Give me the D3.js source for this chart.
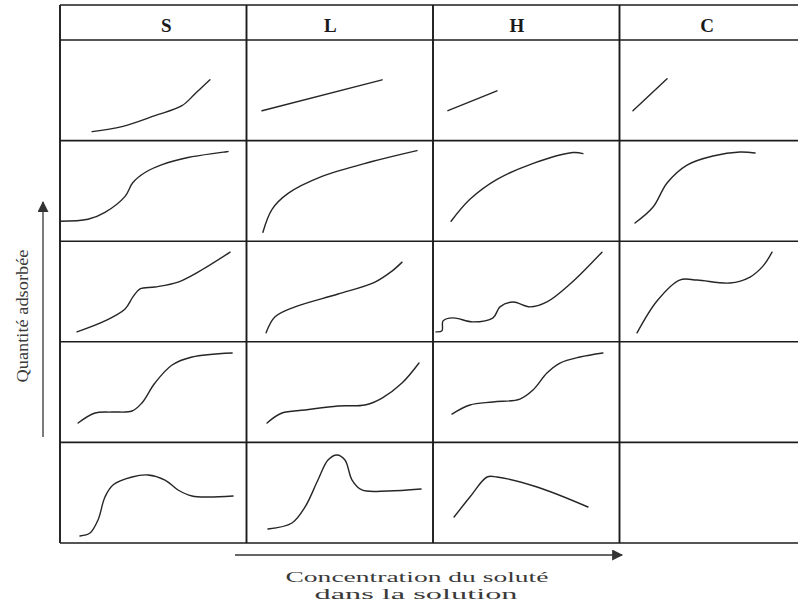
<!DOCTYPE html>
<html>
<head>
<meta charset="utf-8">
<script src="https://cdn.jsdelivr.net/npm/d3@7"></script>
<style>
  body { margin: 0; background: #fff; }
  svg { display: block; }
</style>
</head>
<body>
<div id="graf"></div>
<script>
// 1. Données (courbes en % de la case : [concentration, quantité adsorbée])
CLASSES      = ['S', 'L', 'H', 'C']
SOUS_GROUPES = [1, 2, 3, 4, 5]

S1 = [[17.2,8.9],[33.2,13.9],[50.9,24.8],[65.4,34.7],[72.4,46.5],[80.4,60.4]]
L1 = [[8.3,29.7],[72.7,60.4]]
H1 = [[8.0,29.7],[34.3,49.5]]
C1 = [[7.2,29.7],[25.5,61.4]]

S2 = [[0,19.8],[15.0,21.8],[24.1,28.7],[34.9,44.6],[39.1,58.4],[45.6,68.3],[54.7,76.2],[68.6,83.2],[90.1,89.1]]
L2 = [[8.8,8.9],[13.7,31.7],[22.3,47.5],[40.5,64.4],[67.3,79.2],[91.4,90.1]]
H2 = [[9.7,19.8],[19.8,41.6],[34.3,61.4],[52.0,76.2],[75.1,88.1],[80.4,87.1]]
C2 = [[8.3,18.1],[18.0,34.0],[25.5,57.9],[36.2,75.7],[50.1,84.7],[64.6,88.7],[72.7,87.7]]

S3 = [[9.1,9.9],[24.1,20.8],[34.9,32.7],[39.1,44.6],[42.9,52.5],[50.9,54.5],[63.3,59.4],[74.0,69.3],[91.2,89.1]]
L3 = [[10.5,8.9],[15.3,24.8],[26.0,34.7],[49.1,47.5],[68.9,59.4],[78.0,70.3],[83.4,79.2]]
H3 = [[1.6,9.9],[4.8,10.9],[5.4,20.8],[10.7,23.8],[21.4,19.8],[32.2,23.8],[35.9,34.7],[42.9,39.6],[52.0,34.7],[61.1,39.6],[73.5,57.4],[90.6,89.1]]
C3 = [[9.4,8.9],[20.1,40.6],[32.2,61.4],[41.6,61.4],[59.2,58.4],[70.0,64.4],[76.9,75.2],[81.8,89.1]]

S4 = [[9.7,19.3],[18.8,29.2],[27.9,30.2],[38.6,31.2],[43.9,39.2],[50.9,59.0],[60.1,76.9],[70.8,84.9],[92.3,88.9]]
L4 = [[11.0,19.3],[19.0,29.2],[31.4,32.2],[49.1,36.2],[63.5,37.2],[72.7,44.1],[83.4,59.0],[92.5,78.9]]
H4 = [[10.2,28.2],[19.8,37.2],[32.2,40.2],[46.6,43.1],[53.6,52.1],[61.1,69.0],[68.1,78.9],[78.8,84.9],[91.1,88.9]]

S5 = [[10.7,7.0],[16.1,9.9],[20.4,22.9],[24.1,45.7],[28.4,57.7],[38.6,65.6],[47.2,67.6],[56.3,62.6],[63.3,52.7],[70.8,46.7],[79.4,45.7],[92.8,46.7]]
L5 = [[11.5,13.9],[24.4,19.9],[31.4,35.8],[38.3,62.6],[43.7,82.5],[48.5,87.5],[52.8,82.5],[56.6,62.6],[61.9,52.7],[75.9,51.7],[93.6,53.7]]
H5 = [[11.3,25.8],[19.8,45.7],[29.0,65.6],[34.3,65.6],[55.8,55.7],[83.1,35.8]]

COURBES = [
  {classe:'S', n:1, pts:S1, lisse:true},  {classe:'L', n:1, pts:L1, lisse:false},
  {classe:'H', n:1, pts:H1, lisse:false}, {classe:'C', n:1, pts:C1, lisse:false},
  {classe:'S', n:2, pts:S2, lisse:true},  {classe:'L', n:2, pts:L2, lisse:true},
  {classe:'H', n:2, pts:H2, lisse:true},  {classe:'C', n:2, pts:C2, lisse:true},
  {classe:'S', n:3, pts:S3, lisse:true},  {classe:'L', n:3, pts:L3, lisse:true},
  {classe:'H', n:3, pts:H3, lisse:true},  {classe:'C', n:3, pts:C3, lisse:true},
  {classe:'S', n:4, pts:S4, lisse:true},  {classe:'L', n:4, pts:L4, lisse:true},
  {classe:'H', n:4, pts:H4, lisse:true},
  {classe:'S', n:5, pts:S5, lisse:true},  {classe:'L', n:5, pts:L5, lisse:true},
  {classe:'H', n:5, pts:H5, lisse:true}
]

LABEL_X = ['Concentration du soluté', 'dans la solution']
LABEL_Y = 'Quantité adsorbée'

// 2. Configuration
COULEUR_GRILLE = '#1c1c1c'
COULEUR_TRAIT  = '#262626'
COULEUR_TEXTE  = '#3a3a3a'
POLICE         = '"Liberation Serif", "DejaVu Serif", serif'
POS_ENTETE     = {S: 0.57, L: 0.45, H: 0.45, C: 0.47}   // centre de la lettre dans la colonne

ancho_total = 798
alto_total  = 603
haut_entete = 5

svg = d3.select('#graf').append('svg')
  .attr('width', ancho_total)
  .attr('height', alto_total)

svg.append('rect').attr('width', ancho_total).attr('height', alto_total).attr('fill', '#fff')

fx_col = d3.scaleBand().domain(CLASSES).range([60, 806])
fy_row = d3.scaleBand().domain(SOUS_GROUPES).range([40, 543])

fx = d3.scaleLinear().domain([0, 100]).range([0, fx_col.bandwidth()])
fy = d3.scaleLinear().domain([0, 100]).range([fy_row.bandwidth(), 0])

// 3. Grille
grille = svg.append('g')
  .attr('stroke', COULEUR_GRILLE)
  .attr('stroke-width', 1.6)
  .attr('fill', 'none')

lignesH = [haut_entete].concat(SOUS_GROUPES.map(d => fy_row(d)), [fy_row.range()[1]])
grille.selectAll('line.h').data(lignesH).enter()
  .append('line')
  .attr('class', 'h')
  .attr('x1', fx_col.range()[0])
  .attr('x2', ancho_total)
  .attr('y1', d => d)
  .attr('y2', d => d)

grille.selectAll('line.v').data(CLASSES).enter()
  .append('line')
  .attr('class', 'v')
  .attr('x1', d => fx_col(d))
  .attr('x2', d => fx_col(d))
  .attr('y1', haut_entete)
  .attr('y2', fy_row.range()[1])
  .attr('stroke-width', 1.9)

// en-tête
svg.selectAll('text.classe').data(CLASSES).enter()
  .append('text')
  .attr('class', 'classe')
  .attr('x', d => fx_col(d) + fx_col.bandwidth() * POS_ENTETE[d])
  .attr('y', 32)
  .attr('text-anchor', 'middle')
  .attr('font-family', POLICE)
  .attr('font-weight', 'bold')
  .attr('font-size', 19)
  .attr('fill', '#1a1a1a')
  .text(d => d)

// 4. Courbes
ligne = d3.line().x(d => fx(d[0])).y(d => fy(d[1]))

cases = svg.selectAll('g.case').data(COURBES).enter()
  .append('g')
  .attr('class', 'case')
  .attr('transform', d => `translate(${fx_col(d.classe)},${fy_row(d.n)})`)

cases.append('path')
  .attr('d', d => ligne.curve(d.lisse ? d3.curveCatmullRom.alpha(0.5) : d3.curveLinear)(d.pts))
  .attr('fill', 'none')
  .attr('stroke', COULEUR_TRAIT)
  .attr('stroke-width', 1.4)
  .attr('stroke-linecap', 'round')

// 5. Axes (flèches)
defs = svg.append('defs')
defs.append('marker')
  .attr('id', 'fleche')
  .attr('viewBox', '0 0 10 10')
  .attr('refX', 9).attr('refY', 5)
  .attr('markerUnits', 'userSpaceOnUse')
  .attr('markerWidth', 16).attr('markerHeight', 11)
  .attr('orient', 'auto')
  .append('path')
  .attr('d', 'M0,0 L10,5 L0,10 Z')
  .attr('fill', '#333')

svg.append('line')
  .attr('x1', 235).attr('y1', 555)
  .attr('x2', 622).attr('y2', 555)
  .attr('stroke', '#333').attr('stroke-width', 1.3)
  .attr('marker-end', 'url(#fleche)')

svg.append('line')
  .attr('x1', 43).attr('y1', 437)
  .attr('x2', 43).attr('y2', 202)
  .attr('stroke', '#333').attr('stroke-width', 1.3)
  .attr('marker-end', 'url(#fleche)')

svg.selectAll('text.labx').data(LABEL_X).enter()
  .append('text')
  .attr('class', 'labx')
  .attr('x', (d, i) => i == 0 ? 417 : 416)
  .attr('y', (d, i) => i == 0 ? 582 : 599)
  .attr('text-anchor', 'middle')
  .attr('font-family', POLICE)
  .attr('font-size', 15)
  .attr('fill', COULEUR_TEXTE)
  .attr('textLength', (d, i) => i == 0 ? 263 : 203)
  .attr('lengthAdjust', 'spacingAndGlyphs')
  .text(d => d)

svg.append('text')
  .attr('transform', 'translate(28,316) rotate(-90)')
  .attr('text-anchor', 'middle')
  .attr('font-family', POLICE)
  .attr('font-size', 17)
  .attr('fill', COULEUR_TEXTE)
  .attr('textLength', 133)
  .attr('lengthAdjust', 'spacingAndGlyphs')
  .text(LABEL_Y)
</script>
</body>
</html>
